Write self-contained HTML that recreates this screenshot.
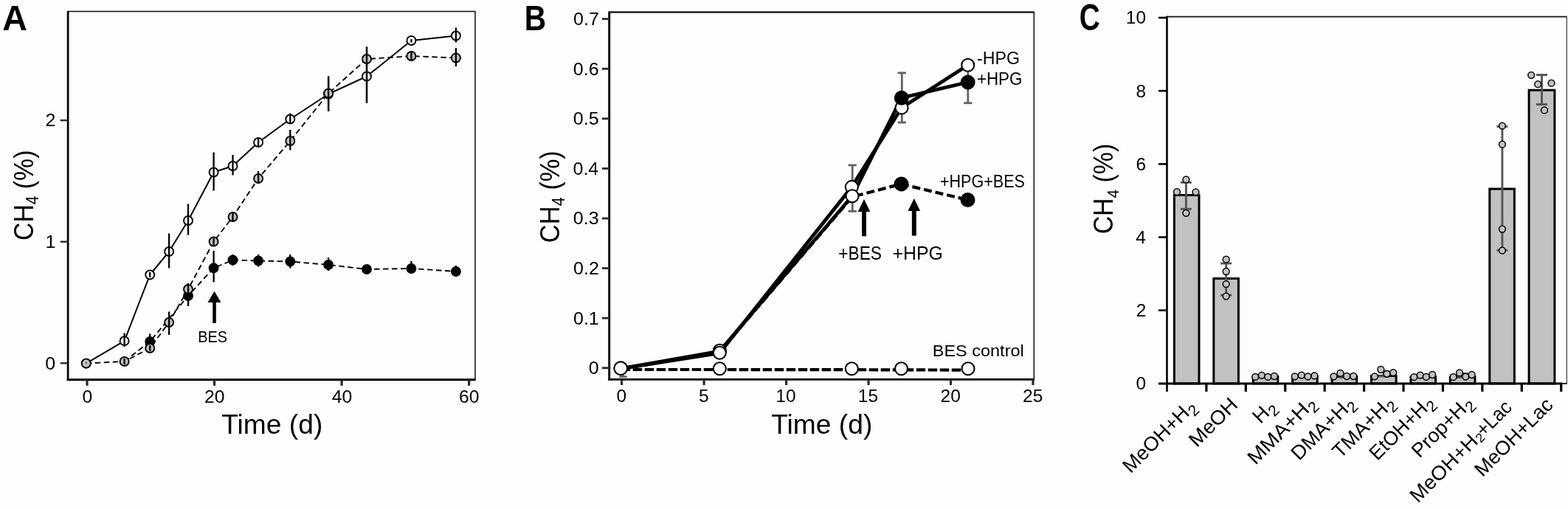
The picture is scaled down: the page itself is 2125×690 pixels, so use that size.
<!DOCTYPE html>
<html lang="en"><head><meta charset="utf-8"><title>CH4 production figure</title>
<style>
html,body{margin:0;padding:0;background:#fff;}
body{width:2125px;height:690px;overflow:hidden;}
svg{display:block;}
svg text{font-family:"Liberation Sans", "DejaVu Sans", sans-serif;fill:#000;}
</style></head><body>
<svg width="2125" height="690" viewBox="0 0 2125 690">
<rect x="0" y="0" width="2125" height="690" fill="#fefefe"/>
<g id="panelA">
<rect x="92.1" y="15.5" width="551.9" height="499.20000000000005" fill="none" stroke="#161616" stroke-width="1.55"/>
<line x1="92.1" y1="14.9" x2="92.1" y2="516.1" stroke="#000" stroke-width="2.7"/>
<line x1="90.75" y1="514.7" x2="644.6" y2="514.7" stroke="#000" stroke-width="2.9"/>
<line x1="81.69999999999999" y1="492.29999999999995" x2="92.1" y2="492.29999999999995" stroke="#2a2a2a" stroke-width="2.4"/>
<text transform="translate(61.14,500.56) scale(1.0300,1)" font-size="24.31">0</text>
<line x1="81.69999999999999" y1="327.69999999999993" x2="92.1" y2="327.69999999999993" stroke="#2a2a2a" stroke-width="2.4"/>
<text transform="translate(61.39,335.96) scale(1.0300,1)" font-size="24.31">1</text>
<line x1="81.69999999999999" y1="163.1" x2="92.1" y2="163.1" stroke="#2a2a2a" stroke-width="2.4"/>
<text transform="translate(61.45,171.36) scale(1.0300,1)" font-size="24.31">2</text>
<line x1="118.0" y1="514.7" x2="118.0" y2="522.8" stroke="#2a2a2a" stroke-width="3.2"/>
<text transform="translate(111.40,545.66) scale(1.0300,1)" font-size="24.03">0</text>
<line x1="290.54" y1="514.7" x2="290.54" y2="522.8" stroke="#2a2a2a" stroke-width="3.2"/>
<text transform="translate(276.95,545.66) scale(1.0300,1)" font-size="24.03">20</text>
<line x1="463.08000000000004" y1="514.7" x2="463.08000000000004" y2="522.8" stroke="#2a2a2a" stroke-width="3.2"/>
<text transform="translate(449.83,545.66) scale(1.0300,1)" font-size="24.03">40</text>
<line x1="635.62" y1="514.7" x2="635.62" y2="522.8" stroke="#2a2a2a" stroke-width="3.2"/>
<text transform="translate(622.03,545.66) scale(1.0300,1)" font-size="24.03">60</text>
<text transform="translate(300.26,587.80) scale(0.9989,1)" font-size="37.24">Time (d)</text>
<text transform="translate(44.60,325.99) rotate(-90) scale(0.8937,1)" font-size="37.82">CH<tspan font-size="23.45" dy="7.56">4</tspan><tspan dy="-7.56"> (%)</tspan></text>
<text transform="translate(3.14,40.50) scale(0.9528,1)" font-size="48.87" font-weight="bold">A</text>
<polyline points="116.8,492.6 168.6,462.2 203.2,372.5 229.1,341 255.0,299 289.6,233.5 315.5,225 350.1,193 393.3,161.5 445.1,127.5 497.0,103.5 557.4,55 617.9,48.5" fill="none" stroke="#000" stroke-width="2.0" stroke-linejoin="round"/>
<polyline points="116.8,492.6 168.6,490 203.2,472 229.1,437 255.0,392 289.6,327.5 315.5,294 350.1,242 393.3,191 445.1,126.5 497.0,80 557.4,76 617.9,78.5" fill="none" stroke="#000" stroke-width="1.9" stroke-dasharray="7.5 4.5" stroke-linejoin="round"/>
<polyline points="168.6,490 203.2,463 255.0,401 289.6,363.3 315.5,352.5 350.1,353.5 393.3,354.5 445.1,359 497.0,365 557.4,364 617.9,368" fill="none" stroke="#000" stroke-width="1.9" stroke-dasharray="7.5 4.5" stroke-linejoin="round"/>
<line x1="203.2" y1="452.5" x2="203.2" y2="470" stroke="#000" stroke-width="2.3"/>
<circle cx="203.2" cy="463" r="6" fill="#000" stroke="#000" stroke-width="1.9"/>
<line x1="255.0" y1="392.5" x2="255.0" y2="415" stroke="#000" stroke-width="2.3"/>
<circle cx="255.0" cy="401" r="6" fill="#000" stroke="#000" stroke-width="1.9"/>
<line x1="289.6" y1="340" x2="289.6" y2="382.5" stroke="#000" stroke-width="2.3"/>
<circle cx="289.6" cy="363.3" r="6" fill="#000" stroke="#000" stroke-width="1.9"/>
<line x1="315.5" y1="345" x2="315.5" y2="360" stroke="#000" stroke-width="2.3"/>
<circle cx="315.5" cy="352.5" r="6" fill="#000" stroke="#000" stroke-width="1.9"/>
<line x1="350.1" y1="345" x2="350.1" y2="361.5" stroke="#000" stroke-width="2.3"/>
<circle cx="350.1" cy="353.5" r="6" fill="#000" stroke="#000" stroke-width="1.9"/>
<line x1="393.3" y1="345" x2="393.3" y2="363.5" stroke="#000" stroke-width="2.3"/>
<circle cx="393.3" cy="354.5" r="6" fill="#000" stroke="#000" stroke-width="1.9"/>
<line x1="445.1" y1="349" x2="445.1" y2="367" stroke="#000" stroke-width="2.3"/>
<circle cx="445.1" cy="359" r="6" fill="#000" stroke="#000" stroke-width="1.9"/>
<circle cx="497.0" cy="365" r="6" fill="#000" stroke="#000" stroke-width="1.9"/>
<line x1="557.4" y1="354" x2="557.4" y2="371" stroke="#000" stroke-width="2.3"/>
<circle cx="557.4" cy="364" r="6" fill="#000" stroke="#000" stroke-width="1.9"/>
<line x1="617.9" y1="360" x2="617.9" y2="374" stroke="#000" stroke-width="2.3"/>
<circle cx="617.9" cy="368" r="6" fill="#000" stroke="#000" stroke-width="1.9"/>
<circle cx="116.8" cy="492.6" r="6" fill="#fff" stroke="#000" stroke-width="1.9"/>
<circle cx="168.6" cy="462.2" r="6" fill="#fff" stroke="#000" stroke-width="1.9"/>
<line x1="168.6" y1="451.5" x2="168.6" y2="470" stroke="#000" stroke-width="2.3"/>
<circle cx="203.2" cy="372.5" r="6" fill="#fff" stroke="#000" stroke-width="1.9"/>
<line x1="203.2" y1="369" x2="203.2" y2="376" stroke="#000" stroke-width="2.3"/>
<circle cx="229.1" cy="341" r="6" fill="#fff" stroke="#000" stroke-width="1.9"/>
<line x1="229.1" y1="316.5" x2="229.1" y2="363.5" stroke="#000" stroke-width="2.3"/>
<circle cx="255.0" cy="299" r="6" fill="#fff" stroke="#000" stroke-width="1.9"/>
<line x1="255.0" y1="276.5" x2="255.0" y2="318.5" stroke="#000" stroke-width="2.3"/>
<circle cx="289.6" cy="233.5" r="6" fill="#fff" stroke="#000" stroke-width="1.9"/>
<line x1="289.6" y1="206.5" x2="289.6" y2="258.5" stroke="#000" stroke-width="2.3"/>
<circle cx="315.5" cy="225" r="6" fill="#fff" stroke="#000" stroke-width="1.9"/>
<line x1="315.5" y1="210" x2="315.5" y2="237.5" stroke="#000" stroke-width="2.3"/>
<circle cx="350.1" cy="193" r="6" fill="#fff" stroke="#000" stroke-width="1.9"/>
<line x1="350.1" y1="188" x2="350.1" y2="198" stroke="#000" stroke-width="2.3"/>
<circle cx="393.3" cy="161.5" r="6" fill="#fff" stroke="#000" stroke-width="1.9"/>
<line x1="393.3" y1="153.5" x2="393.3" y2="167.5" stroke="#000" stroke-width="2.3"/>
<circle cx="445.1" cy="127.5" r="6" fill="#fff" stroke="#000" stroke-width="1.9"/>
<line x1="445.1" y1="103.5" x2="445.1" y2="151" stroke="#000" stroke-width="2.3"/>
<circle cx="497.0" cy="103.5" r="6" fill="#fff" stroke="#000" stroke-width="1.9"/>
<line x1="497.0" y1="63.5" x2="497.0" y2="139.5" stroke="#000" stroke-width="2.3"/>
<circle cx="557.4" cy="55" r="6" fill="#fff" stroke="#000" stroke-width="1.9"/>
<line x1="557.4" y1="53" x2="557.4" y2="57.5" stroke="#000" stroke-width="2.3"/>
<circle cx="617.9" cy="48.5" r="6" fill="#fff" stroke="#000" stroke-width="1.9"/>
<line x1="617.9" y1="37.5" x2="617.9" y2="57.5" stroke="#000" stroke-width="2.3"/>
<circle cx="116.8" cy="492.6" r="6" fill="#c0c0c0" stroke="#000" stroke-width="1.9"/>
<circle cx="168.6" cy="490" r="6" fill="#c0c0c0" stroke="#000" stroke-width="1.9"/>
<line x1="168.6" y1="486" x2="168.6" y2="494" stroke="#000" stroke-width="2.3"/>
<circle cx="203.2" cy="472" r="6" fill="#c0c0c0" stroke="#000" stroke-width="1.9"/>
<line x1="203.2" y1="468" x2="203.2" y2="476" stroke="#000" stroke-width="2.3"/>
<circle cx="229.1" cy="437" r="6" fill="#c0c0c0" stroke="#000" stroke-width="1.9"/>
<line x1="229.1" y1="422.5" x2="229.1" y2="454" stroke="#000" stroke-width="2.3"/>
<circle cx="255.0" cy="392" r="6" fill="#c0c0c0" stroke="#000" stroke-width="1.9"/>
<line x1="255.0" y1="384" x2="255.0" y2="400" stroke="#000" stroke-width="2.3"/>
<circle cx="289.6" cy="327.5" r="6" fill="#c0c0c0" stroke="#000" stroke-width="1.9"/>
<line x1="289.6" y1="323" x2="289.6" y2="332" stroke="#000" stroke-width="2.3"/>
<circle cx="315.5" cy="294" r="6" fill="#c0c0c0" stroke="#000" stroke-width="1.9"/>
<line x1="315.5" y1="289" x2="315.5" y2="299" stroke="#000" stroke-width="2.3"/>
<circle cx="350.1" cy="242" r="6" fill="#c0c0c0" stroke="#000" stroke-width="1.9"/>
<line x1="350.1" y1="232" x2="350.1" y2="248.5" stroke="#000" stroke-width="2.3"/>
<circle cx="393.3" cy="191" r="6" fill="#c0c0c0" stroke="#000" stroke-width="1.9"/>
<line x1="393.3" y1="176" x2="393.3" y2="203.5" stroke="#000" stroke-width="2.3"/>
<circle cx="445.1" cy="126.5" r="6" fill="#c0c0c0" stroke="#000" stroke-width="1.9"/>
<line x1="445.1" y1="103.5" x2="445.1" y2="151" stroke="#000" stroke-width="2.3"/>
<circle cx="497.0" cy="80" r="6" fill="#c0c0c0" stroke="#000" stroke-width="1.9"/>
<line x1="497.0" y1="63.5" x2="497.0" y2="139.5" stroke="#000" stroke-width="2.3"/>
<circle cx="557.4" cy="76" r="6" fill="#c0c0c0" stroke="#000" stroke-width="1.9"/>
<line x1="557.4" y1="70" x2="557.4" y2="82.5" stroke="#000" stroke-width="2.3"/>
<circle cx="617.9" cy="78.5" r="6" fill="#c0c0c0" stroke="#000" stroke-width="1.9"/>
<line x1="617.9" y1="65" x2="617.9" y2="90" stroke="#000" stroke-width="2.3"/>
<circle cx="116.9" cy="491.8" r="0.9" fill="#000"/>
<path d="M290.5,394.8 L299.5,410.1 L292.8,410.1 L292.8,437.9 L288.2,437.9 L288.2,410.1 L281.5,410.1 Z" fill="#000"/>
<text transform="translate(268.15,464.40) scale(0.8746,1)" font-size="22.84">BES</text>
</g>
<g id="panelB">
<rect x="825.7" y="16.5" width="575.5999999999999" height="497.79999999999995" fill="none" stroke="#161616" stroke-width="1.6"/>
<line x1="825.7" y1="15.6" x2="825.7" y2="515.5999999999999" stroke="#000" stroke-width="2.9"/>
<line x1="824.25" y1="514.3" x2="1402.0" y2="514.3" stroke="#000" stroke-width="2.7"/>
<line x1="825.7" y1="16.5" x2="1401.3" y2="16.5" stroke="#111" stroke-width="2.0"/>
<line x1="815.9000000000001" y1="498.8" x2="825.7" y2="498.8" stroke="#2a2a2a" stroke-width="2.8"/>
<text transform="translate(797.64,507.26) scale(1.0300,1)" font-size="24.31">0</text>
<line x1="815.9000000000001" y1="431.21000000000004" x2="825.7" y2="431.21000000000004" stroke="#2a2a2a" stroke-width="2.8"/>
<text transform="translate(776.98,439.67) scale(1.0300,1)" font-size="24.31">0.1</text>
<line x1="815.9000000000001" y1="363.62" x2="825.7" y2="363.62" stroke="#2a2a2a" stroke-width="2.8"/>
<text transform="translate(777.05,372.08) scale(1.0300,1)" font-size="24.31">0.2</text>
<line x1="815.9000000000001" y1="296.03000000000003" x2="825.7" y2="296.03000000000003" stroke="#2a2a2a" stroke-width="2.8"/>
<text transform="translate(776.86,304.49) scale(1.0300,1)" font-size="24.31">0.3</text>
<line x1="815.9000000000001" y1="228.44" x2="825.7" y2="228.44" stroke="#2a2a2a" stroke-width="2.8"/>
<text transform="translate(776.48,236.90) scale(1.0300,1)" font-size="24.31">0.4</text>
<line x1="815.9000000000001" y1="160.85000000000002" x2="825.7" y2="160.85000000000002" stroke="#2a2a2a" stroke-width="2.8"/>
<text transform="translate(776.80,169.31) scale(1.0300,1)" font-size="24.31">0.5</text>
<line x1="815.9000000000001" y1="93.26000000000005" x2="825.7" y2="93.26000000000005" stroke="#2a2a2a" stroke-width="2.8"/>
<text transform="translate(776.86,101.72) scale(1.0300,1)" font-size="24.31">0.6</text>
<line x1="815.9000000000001" y1="25.670000000000073" x2="825.7" y2="25.670000000000073" stroke="#2a2a2a" stroke-width="2.8"/>
<text transform="translate(777.05,34.13) scale(1.0300,1)" font-size="24.31">0.7</text>
<line x1="842.6" y1="514.3" x2="842.6" y2="522" stroke="#2a2a2a" stroke-width="3.2"/>
<text transform="translate(835.58,545.46) scale(1.0300,1)" font-size="23.75">0</text>
<line x1="954.08" y1="514.3" x2="954.08" y2="522" stroke="#2a2a2a" stroke-width="3.2"/>
<text transform="translate(947.09,545.46) scale(1.0300,1)" font-size="23.75">5</text>
<line x1="1065.56" y1="514.3" x2="1065.56" y2="522" stroke="#2a2a2a" stroke-width="3.2"/>
<text transform="translate(1051.33,545.46) scale(1.0300,1)" font-size="23.75">10</text>
<line x1="1177.04" y1="514.3" x2="1177.04" y2="522" stroke="#2a2a2a" stroke-width="3.2"/>
<text transform="translate(1162.84,545.46) scale(1.0300,1)" font-size="23.75">15</text>
<line x1="1288.52" y1="514.3" x2="1288.52" y2="522" stroke="#2a2a2a" stroke-width="3.2"/>
<text transform="translate(1274.59,545.46) scale(1.0300,1)" font-size="23.75">20</text>
<line x1="1400.0" y1="514.3" x2="1400.0" y2="522" stroke="#2a2a2a" stroke-width="3.2"/>
<text transform="translate(1386.10,545.46) scale(1.0300,1)" font-size="23.75">25</text>
<text transform="translate(1045.26,587.80) scale(0.9989,1)" font-size="37.24">Time (d)</text>
<text transform="translate(757.60,329.13) rotate(-90) scale(0.9268,1)" font-size="37.24">CH<tspan font-size="23.09" dy="7.82">4</tspan><tspan dy="-7.82"> (%)</tspan></text>
<text transform="translate(710.76,41.00) scale(0.8319,1)" font-size="48.87" font-weight="bold">B</text>
<line x1="1155.2" y1="223.9" x2="1155.2" y2="286.4" stroke="#626262" stroke-width="2.8"/>
<line x1="1149.55" y1="223.9" x2="1160.8500000000001" y2="223.9" stroke="#626262" stroke-width="2.8"/>
<line x1="1149.55" y1="286.4" x2="1160.8500000000001" y2="286.4" stroke="#626262" stroke-width="2.8"/>
<line x1="1222.3" y1="98.8" x2="1222.3" y2="166" stroke="#626262" stroke-width="2.8"/>
<line x1="1216.6499999999999" y1="98.8" x2="1227.95" y2="98.8" stroke="#626262" stroke-width="2.8"/>
<line x1="1216.6499999999999" y1="166" x2="1227.95" y2="166" stroke="#626262" stroke-width="2.8"/>
<line x1="1311.8" y1="90" x2="1311.8" y2="139.7" stroke="#626262" stroke-width="2.8"/>
<line x1="1306.1499999999999" y1="139.7" x2="1317.45" y2="139.7" stroke="#626262" stroke-width="2.8"/>
<line x1="844.5" y1="500" x2="844.5" y2="510.7" stroke="#626262" stroke-width="2.8"/>
<line x1="839.3" y1="510.7" x2="849.7" y2="510.7" stroke="#626262" stroke-width="2.8"/>
<polyline points="841.7,501.0 975.3,501.0 1154.3,501.2 1221.5,501.4 1311.5,501.6" fill="none" stroke="#000" stroke-width="4.2" stroke-dasharray="12.5 3.5" stroke-linejoin="round"/>
<polyline points="841.7,500.4 975.3,476.6 1155,266.8 1221.5,249.5 1311.5,271" fill="none" stroke="#000" stroke-width="4.3" stroke-dasharray="11 5" stroke-linejoin="round"/>
<polyline points="841.7,499.6 975.3,476.0 1155,265.8 1221.8,132.7 1311.7,111.5" fill="none" stroke="#000" stroke-width="4.8" stroke-linejoin="round"/>
<polyline points="841.7,499.6 975.3,478.6 1154.3,253.4 1222,146 1311.7,88.2" fill="none" stroke="#000" stroke-width="4.8" stroke-linejoin="round"/>
<circle cx="975.3" cy="499.7" r="8.5" fill="#fff" stroke="#000" stroke-width="2.1"/>
<circle cx="1154.3" cy="499.7" r="8.5" fill="#fff" stroke="#000" stroke-width="2.1"/>
<circle cx="1221.5" cy="499.7" r="8.5" fill="#fff" stroke="#000" stroke-width="2.1"/>
<circle cx="1312" cy="499.7" r="8.5" fill="#fff" stroke="#000" stroke-width="2.1"/>
<circle cx="1221.5" cy="249.5" r="8.9" fill="#000" stroke="#000" stroke-width="2.1"/>
<circle cx="1311.5" cy="271" r="8.9" fill="#000" stroke="#000" stroke-width="2.1"/>
<circle cx="975.3" cy="475.2" r="8.5" fill="#fff" stroke="#000" stroke-width="2.1"/>
<circle cx="975.3" cy="478.2" r="8.5" fill="#fff" stroke="#000" stroke-width="2.1"/>
<circle cx="1154.3" cy="253.4" r="8.5" fill="#fff" stroke="#000" stroke-width="2.1"/>
<circle cx="1155" cy="265.8" r="8.5" fill="#fff" stroke="#000" stroke-width="2.1"/>
<circle cx="1222" cy="146" r="8.5" fill="#fff" stroke="#000" stroke-width="2.1"/>
<circle cx="1221.8" cy="132.7" r="8.9" fill="#000" stroke="#000" stroke-width="2.1"/>
<circle cx="1311.7" cy="111.5" r="8.9" fill="#000" stroke="#000" stroke-width="2.1"/>
<circle cx="1311.7" cy="88.2" r="8.5" fill="#fff" stroke="#000" stroke-width="2.1"/>
<circle cx="841.2" cy="499.3" r="8.9" fill="#fff" stroke="#000" stroke-width="2.1"/>
<path d="M1171,269.9 L1179.3,286.9 L1173.95,286.9 L1173.95,320.2 L1168.05,320.2 L1168.05,286.9 L1162.7,286.9 Z" fill="#000"/>
<path d="M1238.8,269.0 L1247.1,286.0 L1241.75,286.0 L1241.75,319.4 L1235.85,319.4 L1235.85,286.0 L1230.5,286.0 Z" fill="#000"/>
<text transform="translate(1323.96,86.70) scale(0.9664,1)" font-size="24.00">-HPG</text>
<text transform="translate(1323.88,115.10) scale(0.9432,1)" font-size="23.71">+HPG</text>
<text transform="translate(1273.92,254.30) scale(0.8985,1)" font-size="24.00">+HPG+BES</text>
<text transform="translate(1136.16,351.60) scale(0.8838,1)" font-size="25.75">+BES</text>
<text transform="translate(1209.56,351.60) scale(0.9554,1)" font-size="26.04">+HPG</text>
<text transform="translate(1263.76,482.50) scale(1.0286,1)" font-size="22.84">BES control</text>
</g>
<g id="panelC">
<line x1="1581.5" y1="22.6" x2="2123.3" y2="22.6" stroke="#111" stroke-width="1.8"/>
<line x1="2123.3" y1="21.700000000000003" x2="2123.3" y2="520.9" stroke="#444" stroke-width="1.3"/>
<line x1="1581.5" y1="519.9" x2="2123.3" y2="519.9" stroke="#111" stroke-width="1.6"/>
<rect x="1591.41" y="264.51" width="33.6" height="255.39" fill="#c1c1c1" stroke="#000" stroke-width="3"/>
<rect x="1644.83" y="377.58" width="33.6" height="142.32" fill="#c1c1c1" stroke="#000" stroke-width="3"/>
<rect x="1698.25" y="510.48" width="33.6" height="9.42" fill="#c1c1c1" stroke="#000" stroke-width="3"/>
<rect x="1751.67" y="510.48" width="33.6" height="9.42" fill="#c1c1c1" stroke="#000" stroke-width="3"/>
<rect x="1805.09" y="510.48" width="33.6" height="9.42" fill="#c1c1c1" stroke="#000" stroke-width="3"/>
<rect x="1858.51" y="509.49" width="33.6" height="10.41" fill="#c1c1c1" stroke="#000" stroke-width="3"/>
<rect x="1911.93" y="510.97" width="33.6" height="8.93" fill="#c1c1c1" stroke="#000" stroke-width="3"/>
<rect x="1965.35" y="510.97" width="33.6" height="8.93" fill="#c1c1c1" stroke="#000" stroke-width="3"/>
<rect x="2018.77" y="256.08" width="33.6" height="263.82" fill="#c1c1c1" stroke="#000" stroke-width="3"/>
<rect x="2072.09" y="122.19" width="34.800000000000004" height="397.71" fill="#c1c1c1" stroke="#000" stroke-width="3"/>
<line x1="1581.5" y1="21.700000000000003" x2="1581.5" y2="530.9" stroke="#000" stroke-width="2.6"/>
<line x1="1570.0" y1="519.9" x2="2117.2999999999997" y2="519.9" stroke="#000" stroke-width="3"/>
<text transform="translate(1539.44,528.26) scale(1.0300,1)" font-size="23.75">0</text>
<line x1="1570.0" y1="420.71999999999997" x2="1581.5" y2="420.71999999999997" stroke="#000" stroke-width="2.6"/>
<text transform="translate(1539.75,429.08) scale(1.0300,1)" font-size="23.75">2</text>
<line x1="1570.0" y1="321.53999999999996" x2="1581.5" y2="321.53999999999996" stroke="#000" stroke-width="2.6"/>
<text transform="translate(1539.20,329.90) scale(1.0300,1)" font-size="23.75">4</text>
<line x1="1570.0" y1="222.35999999999996" x2="1581.5" y2="222.35999999999996" stroke="#000" stroke-width="2.6"/>
<text transform="translate(1539.57,230.72) scale(1.0300,1)" font-size="23.75">6</text>
<line x1="1570.0" y1="123.17999999999995" x2="1581.5" y2="123.17999999999995" stroke="#000" stroke-width="2.6"/>
<text transform="translate(1539.57,131.54) scale(1.0300,1)" font-size="23.75">8</text>
<line x1="1570.0" y1="23.999999999999943" x2="1581.5" y2="23.999999999999943" stroke="#000" stroke-width="2.6"/>
<text transform="translate(1525.87,32.36) scale(1.0300,1)" font-size="23.75">10</text>
<line x1="1634.92" y1="519.9" x2="1634.92" y2="530.9" stroke="#000" stroke-width="3.2"/>
<line x1="1688.34" y1="519.9" x2="1688.34" y2="530.9" stroke="#000" stroke-width="3.2"/>
<line x1="1741.76" y1="519.9" x2="1741.76" y2="530.9" stroke="#000" stroke-width="3.2"/>
<line x1="1795.18" y1="519.9" x2="1795.18" y2="530.9" stroke="#000" stroke-width="3.2"/>
<line x1="1848.6" y1="519.9" x2="1848.6" y2="530.9" stroke="#000" stroke-width="3.2"/>
<line x1="1902.02" y1="519.9" x2="1902.02" y2="530.9" stroke="#000" stroke-width="3.2"/>
<line x1="1955.44" y1="519.9" x2="1955.44" y2="530.9" stroke="#000" stroke-width="3.2"/>
<line x1="2008.8600000000001" y1="519.9" x2="2008.8600000000001" y2="530.9" stroke="#000" stroke-width="3.2"/>
<line x1="2062.28" y1="519.9" x2="2062.28" y2="530.9" stroke="#000" stroke-width="3.2"/>
<line x1="2115.7" y1="519.9" x2="2115.7" y2="530.9" stroke="#000" stroke-width="3.2"/>
<text transform="translate(1508.30,317.29) rotate(-90) scale(0.9184,1)" font-size="36.80">CH<tspan font-size="22.82" dy="7.73">4</tspan><tspan dy="-7.73"> (%)</tspan></text>
<text transform="translate(1462.75,40.80) scale(0.7750,1)" font-size="50.04" font-weight="bold">C</text>
<line x1="1607.4" y1="247.3" x2="1607.4" y2="283.3" stroke="#555" stroke-width="2.9"/>
<line x1="1599.9" y1="247.3" x2="1614.9" y2="247.3" stroke="#555" stroke-width="2.9"/>
<line x1="1599.9" y1="283.3" x2="1614.9" y2="283.3" stroke="#555" stroke-width="2.9"/>
<circle cx="1607.4" cy="243.4" r="4.4" fill="#c1c1c1" stroke="#000" stroke-width="1.5"/>
<circle cx="1595" cy="260.1" r="4.4" fill="#c1c1c1" stroke="#000" stroke-width="1.5"/>
<circle cx="1620.5" cy="260.3" r="4.4" fill="#c1c1c1" stroke="#000" stroke-width="1.5"/>
<circle cx="1607.4" cy="288.8" r="4.4" fill="#c1c1c1" stroke="#000" stroke-width="1.5"/>
<line x1="1661.7" y1="357" x2="1661.7" y2="400.1" stroke="#555" stroke-width="2.9"/>
<line x1="1654.2" y1="357" x2="1669.2" y2="357" stroke="#555" stroke-width="2.9"/>
<line x1="1654.2" y1="400.1" x2="1669.2" y2="400.1" stroke="#555" stroke-width="2.9"/>
<circle cx="1661.7" cy="351.7" r="4.4" fill="#c1c1c1" stroke="#000" stroke-width="1.5"/>
<circle cx="1661.7" cy="368" r="4.4" fill="#c1c1c1" stroke="#000" stroke-width="1.5"/>
<circle cx="1661.7" cy="385.1" r="4.4" fill="#c1c1c1" stroke="#000" stroke-width="1.5"/>
<circle cx="1661.7" cy="401.6" r="4.4" fill="#c1c1c1" stroke="#000" stroke-width="1.5"/>
<line x1="1715.05" y1="509" x2="1715.05" y2="511.5" stroke="#555" stroke-width="2.9"/>
<line x1="1707.55" y1="509" x2="1722.55" y2="509" stroke="#555" stroke-width="2.9"/>
<line x1="1707.55" y1="511.5" x2="1722.55" y2="511.5" stroke="#555" stroke-width="2.9"/>
<circle cx="1701.2" cy="510.9" r="4.4" fill="#c1c1c1" stroke="#000" stroke-width="1.5"/>
<circle cx="1709.9" cy="508.8" r="4.4" fill="#c1c1c1" stroke="#000" stroke-width="1.5"/>
<circle cx="1718.3" cy="510.9" r="4.4" fill="#c1c1c1" stroke="#000" stroke-width="1.5"/>
<circle cx="1727" cy="510" r="4.4" fill="#c1c1c1" stroke="#000" stroke-width="1.5"/>
<line x1="1768.47" y1="509" x2="1768.47" y2="511.5" stroke="#555" stroke-width="2.9"/>
<line x1="1760.97" y1="509" x2="1775.97" y2="509" stroke="#555" stroke-width="2.9"/>
<line x1="1760.97" y1="511.5" x2="1775.97" y2="511.5" stroke="#555" stroke-width="2.9"/>
<circle cx="1754.8" cy="510.3" r="4.4" fill="#c1c1c1" stroke="#000" stroke-width="1.5"/>
<circle cx="1763.8" cy="508.6" r="4.4" fill="#c1c1c1" stroke="#000" stroke-width="1.5"/>
<circle cx="1772.5" cy="510.3" r="4.4" fill="#c1c1c1" stroke="#000" stroke-width="1.5"/>
<circle cx="1781.4" cy="509.4" r="4.4" fill="#c1c1c1" stroke="#000" stroke-width="1.5"/>
<line x1="1821.89" y1="507.5" x2="1821.89" y2="511.5" stroke="#555" stroke-width="2.9"/>
<line x1="1814.39" y1="507.5" x2="1829.39" y2="507.5" stroke="#555" stroke-width="2.9"/>
<line x1="1814.39" y1="511.5" x2="1829.39" y2="511.5" stroke="#555" stroke-width="2.9"/>
<circle cx="1807.5" cy="510.3" r="4.4" fill="#c1c1c1" stroke="#000" stroke-width="1.5"/>
<circle cx="1816.5" cy="505.9" r="4.4" fill="#c1c1c1" stroke="#000" stroke-width="1.5"/>
<circle cx="1825.2" cy="510" r="4.4" fill="#c1c1c1" stroke="#000" stroke-width="1.5"/>
<circle cx="1834.2" cy="510" r="4.4" fill="#c1c1c1" stroke="#000" stroke-width="1.5"/>
<line x1="1875.31" y1="503.5" x2="1875.31" y2="510" stroke="#555" stroke-width="2.9"/>
<line x1="1867.81" y1="503.5" x2="1882.81" y2="503.5" stroke="#555" stroke-width="2.9"/>
<line x1="1867.81" y1="510" x2="1882.81" y2="510" stroke="#555" stroke-width="2.9"/>
<circle cx="1863" cy="510.3" r="4.4" fill="#c1c1c1" stroke="#000" stroke-width="1.5"/>
<circle cx="1871.4" cy="501" r="4.4" fill="#c1c1c1" stroke="#000" stroke-width="1.5"/>
<circle cx="1879.5" cy="506.8" r="4.4" fill="#c1c1c1" stroke="#000" stroke-width="1.5"/>
<circle cx="1888.2" cy="505.1" r="4.4" fill="#c1c1c1" stroke="#000" stroke-width="1.5"/>
<line x1="1928.73" y1="508.5" x2="1928.73" y2="511.5" stroke="#555" stroke-width="2.9"/>
<line x1="1921.23" y1="508.5" x2="1936.23" y2="508.5" stroke="#555" stroke-width="2.9"/>
<line x1="1921.23" y1="511.5" x2="1936.23" y2="511.5" stroke="#555" stroke-width="2.9"/>
<circle cx="1916.3" cy="511.2" r="4.4" fill="#c1c1c1" stroke="#000" stroke-width="1.5"/>
<circle cx="1924.7" cy="508.6" r="4.4" fill="#c1c1c1" stroke="#000" stroke-width="1.5"/>
<circle cx="1932.8" cy="510.9" r="4.4" fill="#c1c1c1" stroke="#000" stroke-width="1.5"/>
<circle cx="1941.2" cy="508" r="4.4" fill="#c1c1c1" stroke="#000" stroke-width="1.5"/>
<line x1="1982.15" y1="506.5" x2="1982.15" y2="511.5" stroke="#555" stroke-width="2.9"/>
<line x1="1974.65" y1="506.5" x2="1989.65" y2="506.5" stroke="#555" stroke-width="2.9"/>
<line x1="1974.65" y1="511.5" x2="1989.65" y2="511.5" stroke="#555" stroke-width="2.9"/>
<circle cx="1969.6" cy="511.2" r="4.4" fill="#c1c1c1" stroke="#000" stroke-width="1.5"/>
<circle cx="1978" cy="505.4" r="4.4" fill="#c1c1c1" stroke="#000" stroke-width="1.5"/>
<circle cx="1986.2" cy="510.6" r="4.4" fill="#c1c1c1" stroke="#000" stroke-width="1.5"/>
<circle cx="1994.6" cy="508" r="4.4" fill="#c1c1c1" stroke="#000" stroke-width="1.5"/>
<line x1="2035.9" y1="171.5" x2="2035.9" y2="339.2" stroke="#555" stroke-width="2.9"/>
<line x1="2028.4" y1="171.5" x2="2043.4" y2="171.5" stroke="#555" stroke-width="2.9"/>
<line x1="2028.4" y1="339.2" x2="2043.4" y2="339.2" stroke="#555" stroke-width="2.9"/>
<circle cx="2035.9" cy="170.6" r="4.4" fill="#c1c1c1" stroke="#000" stroke-width="1.5"/>
<circle cx="2035.9" cy="195.7" r="4.4" fill="#c1c1c1" stroke="#000" stroke-width="1.5"/>
<circle cx="2035.9" cy="310.5" r="4.4" fill="#c1c1c1" stroke="#000" stroke-width="1.5"/>
<circle cx="2035.9" cy="339.6" r="4.4" fill="#c1c1c1" stroke="#000" stroke-width="1.5"/>
<line x1="2089.5" y1="101.5" x2="2089.5" y2="141.5" stroke="#555" stroke-width="2.9"/>
<line x1="2082.0" y1="101.5" x2="2097.0" y2="101.5" stroke="#555" stroke-width="2.9"/>
<line x1="2082.0" y1="141.5" x2="2097.0" y2="141.5" stroke="#555" stroke-width="2.9"/>
<circle cx="2075.2" cy="101.8" r="4.4" fill="#c1c1c1" stroke="#000" stroke-width="1.5"/>
<circle cx="2084.2" cy="114.2" r="4.4" fill="#c1c1c1" stroke="#000" stroke-width="1.5"/>
<circle cx="2102.5" cy="112.7" r="4.4" fill="#c1c1c1" stroke="#000" stroke-width="1.5"/>
<circle cx="2093" cy="149.4" r="4.4" fill="#c1c1c1" stroke="#000" stroke-width="1.5"/>
<g transform="translate(1613.51,561.20) rotate(-45)">
<text x="0" y="0" font-size="27" text-anchor="end" textLength="114.9" lengthAdjust="spacingAndGlyphs">MeOH+H</text>
<text x="0.5" y="6.5" font-size="21" text-anchor="start">2</text>
</g>
<g transform="translate(1678.93,550.40) rotate(-45)">
<text x="0" y="0" font-size="27" text-anchor="end" textLength="80.4" lengthAdjust="spacingAndGlyphs">MeOH</text>
</g>
<g transform="translate(1722.05,561.50) rotate(-45)">
<text x="0" y="0" font-size="27" text-anchor="end">H</text>
<text x="0.5" y="6.5" font-size="21" text-anchor="start">2</text>
</g>
<g transform="translate(1776.07,556.70) rotate(-45)">
<text x="0" y="0" font-size="27" text-anchor="end" textLength="105.4" lengthAdjust="spacingAndGlyphs">MMA+H</text>
<text x="0.5" y="6.5" font-size="21" text-anchor="start">2</text>
</g>
<g transform="translate(1828.89,556.70) rotate(-45)">
<text x="0" y="0" font-size="27" text-anchor="end" textLength="96.8" lengthAdjust="spacingAndGlyphs">DMA+H</text>
<text x="0.5" y="6.5" font-size="21" text-anchor="start">2</text>
</g>
<g transform="translate(1882.71,556.30) rotate(-45)">
<text x="0" y="0" font-size="27" text-anchor="end" textLength="93.6" lengthAdjust="spacingAndGlyphs">TMA+H</text>
<text x="0.5" y="6.5" font-size="21" text-anchor="start">2</text>
</g>
<g transform="translate(1936.33,555.50) rotate(-45)">
<text x="0" y="0" font-size="27" text-anchor="end" textLength="98.7" lengthAdjust="spacingAndGlyphs">EtOH+H</text>
<text x="0.5" y="6.5" font-size="21" text-anchor="start">2</text>
</g>
<g transform="translate(1989.15,556.30) rotate(-45)">
<text x="0" y="0" font-size="27" text-anchor="end" textLength="92.6" lengthAdjust="spacingAndGlyphs">Prop+H</text>
<text x="0.5" y="6.5" font-size="21" text-anchor="start">2</text>
</g>
<g transform="translate(2004.67,599.70) rotate(-45)">
<text x="0" y="0" font-size="27" text-anchor="end" textLength="117.5" lengthAdjust="spacingAndGlyphs">MeOH+H</text>
<text x="0.5" y="2.5" font-size="17.5" text-anchor="start">2</text>
<text x="9" y="0" font-size="27" text-anchor="start" textLength="56" lengthAdjust="spacingAndGlyphs">+Lac</text>
</g>
<g transform="translate(2106.29,550.40) rotate(-45)">
<text x="0" y="0" font-size="27" text-anchor="end">MeOH+Lac</text>
</g>
</g>
</svg>
</body></html>
